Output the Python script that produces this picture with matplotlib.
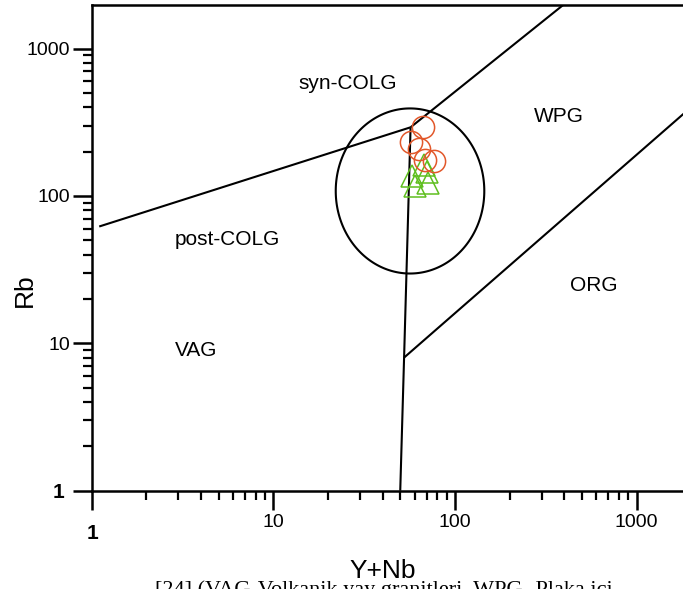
import numpy as np
import matplotlib
matplotlib.use("Agg")
import matplotlib.pyplot as plt
from matplotlib.patches import Polygon
from matplotlib.ticker import NullFormatter

plt.rcParams['font.family'] = ['Liberation Sans', 'DejaVu Sans']

# samples
circ_x = [66.5, 57.3, 63.4, 68.4, 77.0]
circ_y = [292, 233, 207, 175, 173]
tri_x = [67.8, 57.8, 60.3, 70.7, 70.5]
tri_y = [162, 137, 117, 123, 146]

# field boundaries (Y+Nb, Rb)
vag_syn_x = [1.1, 57]
vag_syn_y = [62, 292]
syn_wpg_x = [57, 400]
syn_wpg_y = [292, 2000]
vag_wpg_x = [57, 52.5, 50]
vag_wpg_y = [292, 8, 1]
wpg_org_x = [52.5, 2000]
wpg_org_y = [8, 400]

# post-COLG ellipse (centre and half axes in decades)
ell_cx, ell_cy = 56.6, 108
ell_ax, ell_ay = 0.409, 0.560

fields = ["syn-COLG", "WPG", "post-COLG", "ORG", "VAG"]
field_x = [25.8, 373, 5.56, 583, 3.75]
field_y = [583, 343, 51, 24.5, 8.87]

W, H = 683, 589
fig = plt.figure(figsize=(W / 100, H / 100), dpi=100)
ax = fig.add_axes([91.7 / W, (H - 490.7) / H, (W - 91.7) / W, (490.7 - 5) / H])
ax.set_xscale('log'); ax.set_yscale('log')
ax.set_xlim(1, 1803); ax.set_ylim(1, 1973)

lw = 1.5
for xs, ys in [(vag_syn_x, vag_syn_y), (syn_wpg_x, syn_wpg_y),
               (vag_wpg_x, vag_wpg_y), (wpg_org_x, wpg_org_y)]:
    ax.plot(xs, ys, color='black', lw=lw, solid_capstyle='butt')

t = np.linspace(0, 2 * np.pi, 360, endpoint=False)
ell = np.column_stack([10 ** (np.log10(ell_cx) + ell_ax * np.cos(t)),
                       10 ** (np.log10(ell_cy) + ell_ay * np.sin(t))])
ax.add_patch(Polygon(ell, closed=True, fill=False, edgecolor='black', lw=lw))

ax.plot(tri_x, tri_y, '^', ms=16, mfc='none', mec='#5fbf1f', mew=1.1, ls='none')
ax.plot(circ_x, circ_y, 'o', ms=16, mfc='none', mec='#e2582b', mew=1.1, ls='none')

for name, fx, fy in zip(fields, field_x, field_y):
    ax.text(fx, fy, name, fontsize=15, ha='center', va='center')

ax.spines['right'].set_visible(False)
for s in ['left', 'bottom', 'top']:
    ax.spines[s].set_linewidth(1.8)

ax.set_xticks([1, 10, 100, 1000])
ax.set_yticks([1, 10, 100, 1000])
ax.set_xticklabels(['', '10', '100', '1000'])
ax.set_yticklabels(['', '10', '100', '1000'])
ax.xaxis.set_minor_formatter(NullFormatter())
ax.yaxis.set_minor_formatter(NullFormatter())
ax.tick_params(which='major', direction='out', length=13.5, width=1.8, labelsize=14)
ax.tick_params(which='minor', direction='out', length=6.5, width=1.6)
ax.tick_params(axis='x', pad=3)
ax.tick_params(axis='y', pad=2)
ax.tick_params(top=False, right=False, which='both')

# the bold "1" at the origin of both axes
fig.text(64 / W, (H - 492.5) / H, "1", fontsize=15, fontweight='bold', ha='right', va='center')
fig.text(92.5 / W, (H - 539) / H, "1", fontsize=15, fontweight='bold', ha='center', va='baseline')

fig.text(25 / W, (H - 290) / H, "Rb", fontsize=19, rotation=90, ha='center', va='center')
fig.text(383 / W, (H - 578) / H, "Y+Nb", fontsize=19, ha='center', va='baseline')

fig.text(155 / W, (H - 595) / H, "[24] (VAG-Volkanik yay granitleri, WPG- Plaka içi",
         fontsize=16, family='Liberation Serif', ha='left', va='baseline')

fig.savefig("out.png", dpi=100)
